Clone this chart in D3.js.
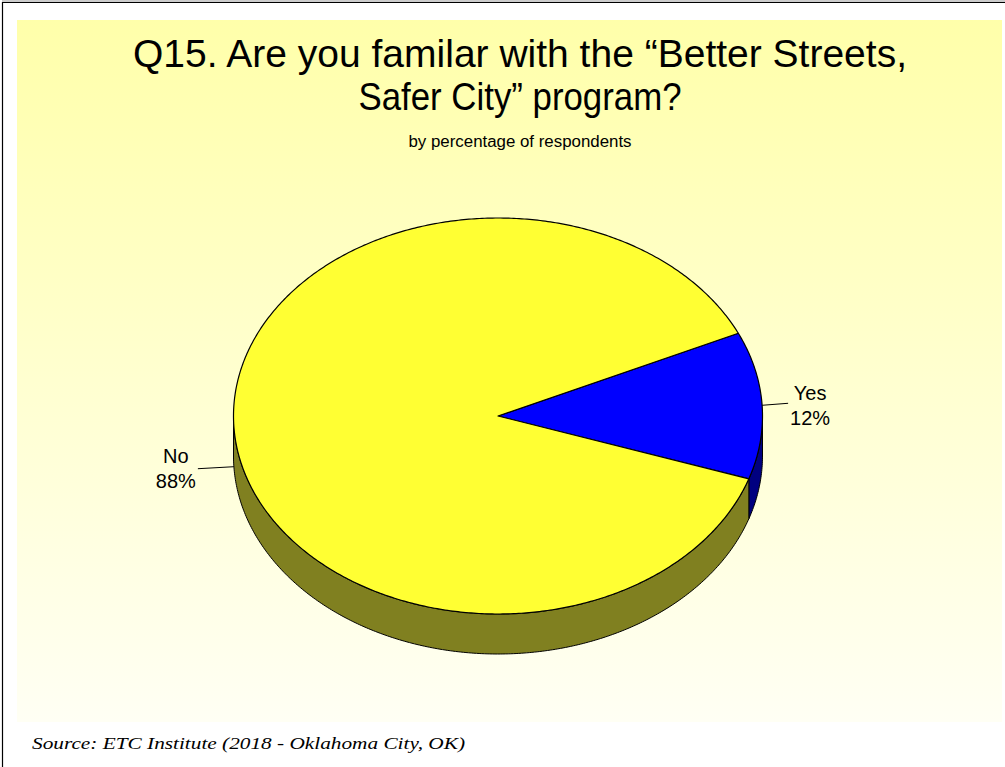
<!DOCTYPE html>
<html>
<head>
<meta charset="utf-8">
<script src="https://cdn.jsdelivr.net/npm/d3@7"></script>
<style>
  html, body { margin: 0; padding: 0; background: #ffffff; }
  svg { display: block; }
</style>
</head>
<body>
<svg id="chart" width="1005" height="767"></svg>
<script>
// Survey answers (percent of respondents)
const categories = ["Yes", "No"];
const percentages = [12, 88];
const pctLabels = ["12%", "88%"];

const titleLines = ["Q15. Are you familar with the \u201cBetter Streets,", "Safer City\u201d program?"];
const subtitle = "by percentage of respondents";
const sourceNote = "Source:  ETC Institute (2018 - Oklahoma City, OK)";

const W = 1005, H = 767;
const svg = d3.select("#chart");
const defs = svg.append("defs");

// Panel background gradient
const grad = defs.append("linearGradient")
  .attr("id", "panelFill").attr("x1", 0).attr("y1", 0).attr("x2", 0).attr("y2", 1);
grad.append("stop").attr("offset", "0%").attr("stop-color", "#ffffaa");
grad.append("stop").attr("offset", "100%").attr("stop-color", "#fffff4");

svg.append("rect").attr("x", 17).attr("y", 20).attr("width", 985).attr("height", 702)
  .attr("fill", "url(#panelFill)");

// Frame lines (top and left)
svg.append("line").attr("x1", 2).attr("y1", 1).attr("x2", W).attr("y2", 1)
  .attr("stroke", "#999").attr("stroke-width", 1);
svg.append("line").attr("x1", 2).attr("y1", 2.5).attr("x2", W).attr("y2", 2.5)
  .attr("stroke", "#000").attr("stroke-width", 1.2);
svg.append("line").attr("x1", 2.5).attr("y1", 2).attr("x2", 2.5).attr("y2", H)
  .attr("stroke", "#000").attr("stroke-width", 1.2);

// Titles (condensed to the layout widths)
const titleWidths = [774, 323];
const title = svg.append("text").attr("text-anchor", "middle")
  .attr("font-family", "Liberation Sans, Arial, sans-serif").attr("font-size", 39).attr("fill", "#000");
title.selectAll("tspan").data(titleLines).join("tspan")
  .attr("x", 520).attr("y", (d, i) => 67 + i * 43)
  .attr("textLength", (d, i) => titleWidths[i]).attr("lengthAdjust", "spacingAndGlyphs")
  .text(d => d);

svg.append("text").attr("x", 520).attr("y", 147).attr("text-anchor", "middle")
  .attr("font-family", "Liberation Sans, Arial, sans-serif").attr("font-size", 16)
  .attr("textLength", 223).attr("lengthAdjust", "spacingAndGlyphs")
  .text(subtitle);

svg.append("text").attr("x", 32).attr("y", 749)
  .attr("font-family", "Liberation Serif, Times New Roman, serif").attr("font-style", "italic")
  .attr("font-size", 16).attr("textLength", 433).attr("lengthAdjust", "spacingAndGlyphs")
  .text(sourceNote);

// 3D pie geometry
const cx = 498, cy = 416, rx = 264.5, ry = 198, depth = 40;
const topColors = d3.scaleOrdinal().domain(categories).range(["#0000ff", "#ffff33"]);
const sideColors = d3.scaleOrdinal().domain(categories).range(["#000080", "#808020"]);

const start = 65.3 * Math.PI / 180;
const pie = d3.pie().sort(null).value(d => d.v)
  .startAngle(start).endAngle(start + 2 * Math.PI);
const arcs = pie(categories.map((c, i) => ({ c, v: percentages[i], lbl: pctLabels[i] })));

// Point on the ellipse for a pie angle (0 = 12 o'clock, clockwise)
const px = a => cx + rx * Math.sin(a);
const py = a => cy - ry * Math.cos(a);
const line = d3.line();

function edge(a0, a1, dy) {
  const n = Math.max(2, Math.ceil(Math.abs(a1 - a0) / 0.01));
  return d3.range(n + 1).map(i => {
    const a = a0 + (a1 - a0) * i / n;
    return [px(a), py(a) + dy];
  });
}

const g = svg.append("g");

// Front walls: visible where the rim faces the viewer (pie angles PI/2 .. 3PI/2)
arcs.forEach(d => {
  const lo = Math.PI / 2, hi = 3 * Math.PI / 2;
  [0, 2 * Math.PI].forEach(shift => {
    const a0 = Math.max(d.startAngle, lo + shift);
    const a1 = Math.min(d.endAngle, hi + shift);
    if (a1 > a0) {
      const pts = edge(a0, a1, 0).concat(edge(a1, a0, depth));
      g.append("path").attr("d", line(pts) + "Z")
        .attr("fill", sideColors(d.data.c)).attr("stroke", "#000").attr("stroke-width", 1)
        .attr("stroke-linejoin", "round");
    }
  });
});

// Top faces
g.selectAll("path.top").data(arcs).join("path").attr("class", "top")
  .attr("d", d => line([[cx, cy]].concat(edge(d.startAngle, d.endAngle, 0))) + "Z")
  .attr("fill", d => topColors(d.data.c)).attr("stroke", "#000").attr("stroke-width", 1.2)
  .attr("stroke-linejoin", "round");

// Labels with leader lines
const labelFont = "Liberation Sans, Arial, sans-serif";
arcs.forEach(d => {
  const mid = (d.startAngle + d.endAngle) / 2;
  const m = ((mid % (2 * Math.PI)) + 2 * Math.PI) % (2 * Math.PI);
  const onWall = m > Math.PI / 2 && m < 3 * Math.PI / 2;
  const ax = px(mid), ay = py(mid) + (onWall ? depth : 0);
  const dir = Math.sin(mid) >= 0 ? 1 : -1;
  const len = dir > 0 ? 26 : 36;
  const ex = ax + dir * len, ey = ay - dir * 2;
  g.append("line").attr("x1", ax).attr("y1", ay).attr("x2", ex).attr("y2", ey)
    .attr("stroke", "#000").attr("stroke-width", 1);
  const t = g.append("text").attr("text-anchor", "middle")
    .attr("font-family", labelFont).attr("font-size", 20).attr("fill", "#000");
  const tx = ex + dir * 22;
  const up = dir > 0 ? 3 : 6;
  t.append("tspan").attr("x", tx).attr("y", ey - up).text(d.data.c);
  t.append("tspan").attr("x", tx).attr("y", ey - up + 25).text(d.data.lbl);
});
</script>
</body>
</html>
